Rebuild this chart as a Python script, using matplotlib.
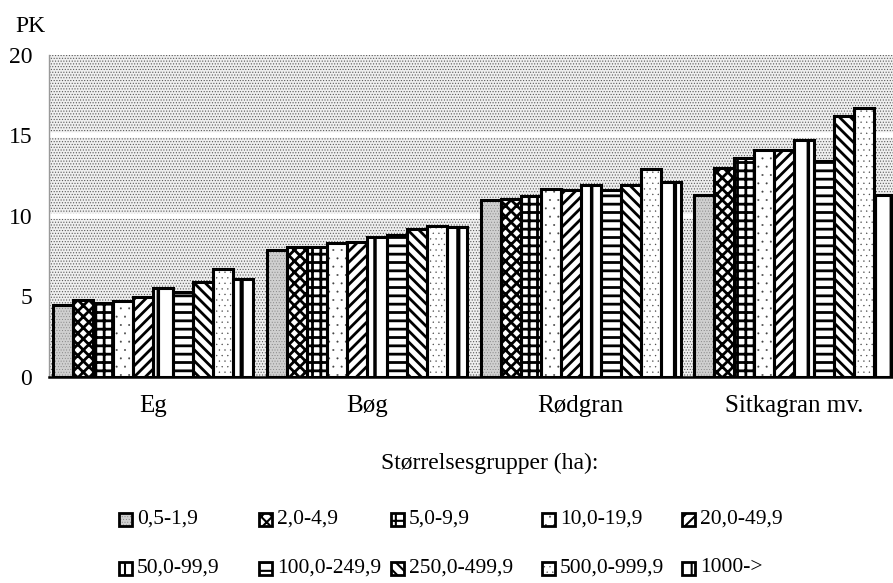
import matplotlib
matplotlib.use('Agg')
import matplotlib.pyplot as plt
from matplotlib.patches import Rectangle
import numpy as np

plt.rcParams['font.family'] = ['Liberation Serif', 'DejaVu Serif']

# data (PK)
arter = ['Eg', 'Bøg', 'Rødgran', 'Sitkagran mv.']
grupper = ['0,5-1,9', '2,0-4,9', '5,0-9,9', '10,0-19,9', '20,0-49,9',
           '50,0-99,9', '100,0-249,9', '250,0-499,9', '500,0-999,9', '1000->']
eg = [4.5, 4.8, 4.6, 4.7, 5.0, 5.5, 5.3, 5.9, 6.7, 6.1]
boeg = [7.9, 8.1, 8.1, 8.3, 8.4, 8.7, 8.8, 9.2, 9.4, 9.3]
roedgran = [11.0, 11.05, 11.25, 11.7, 11.6, 11.9, 11.6, 11.9, 12.9, 12.1]
sitkagran = [11.3, 13.0, 13.6, 14.1, 14.1, 14.7, 13.4, 16.2, 16.7, 11.3]
yticks = [0, 5, 10, 15, 20]

# (facecolor, hatch, hatch colour, hatch width) per size group
styles = [('#cfcfcf', '......', '#7a7a7a', 0.3),
          ('white', 'xxx', 'black', 2.0),
          ('white', '++', 'black', 2.0),
          ('white', '..', '#444444', 0.2),
          ('white', '///', 'black', 2.0),
          ('white', '|', 'black', 2.5),
          ('white', '--', 'black', 2.0),
          ('white', '\\\\\\', 'black', 2.0),
          ('white', '...', '#444444', 0.2),
          ('white', '|', 'black', 3.0)]

W, H = 893, 583
fig = plt.figure(figsize=(W / 100, H / 100), dpi=100)
ax = fig.add_axes([49 / W, 1 - 377 / H, (W - 49) / W, (377 - 55) / H])

# dotted background
with plt.rc_context({'hatch.linewidth': 0.5}):
    bg = Rectangle((0, 0), 1, 1, transform=ax.transAxes, facecolor='#efefef',
                   edgecolor='#5a5a5a', hatch='......', linewidth=0, zorder=0)
    ax.add_patch(bg)
for g in [10, 15]:
    ax.axhline(g, color='white', lw=4, zorder=1)

data = np.array([eg, boeg, roedgran, sitkagran])
x = np.arange(len(arter))
bw = 0.0936
for i in range(len(grupper)):
    fc, hatch, hc, hw = styles[i]
    pos = x - 5 * bw + (i + 0.5) * bw
    with plt.rc_context({'hatch.linewidth': hw}):
        ax.bar(pos, data[:, i], width=bw, color=fc, hatch=hatch, edgecolor=hc,
               linewidth=0, zorder=2)
    ax.bar(pos, data[:, i], width=bw, fill=False, edgecolor='black',
           linewidth=2.2, zorder=3)

ax.set_xlim(-0.487, 3.462)
ax.set_ylim(0, 20)
ax.set_yticks(yticks)
ax.set_yticklabels([str(t) for t in yticks], fontsize=17)
ax.set_xticks(x)
ax.set_xticklabels(arter, fontsize=18)
ax.tick_params(axis='y', length=0, pad=12)
ax.tick_params(axis='x', length=0, pad=13)
for s in ['top', 'right']:
    ax.spines[s].set_visible(False)
ax.spines['left'].set_color('#999999')
ax.spines['left'].set_linewidth(1.0)
ax.spines['bottom'].set_linewidth(1.8)
ax.spines['bottom'].set_zorder(4)

fig.text(15 / W, 1 - 26 / H, 'PK', fontsize=17, va='center', ha='left')
fig.text(490 / W, 1 - 463 / H, 'Størrelsesgrupper (ha):', fontsize=17,
         ha='center', va='center')

# legend, two rows of five
col_x = [119, 259, 391, 542, 682]
row_y = [519, 568]
ps = 13
for i, lab in enumerate(grupper):
    r, c = divmod(i, 5)
    fc, hatch, hc, hw = styles[i]
    px, py = col_x[c], row_y[r]
    with plt.rc_context({'hatch.linewidth': min(hw, 1.5)}):
        fig.add_artist(Rectangle((px / W, 1 - (py + ps / 2) / H), ps / W, ps / H,
                                 transform=fig.transFigure, facecolor=fc,
                                 hatch=hatch, edgecolor=hc, linewidth=0))
    fig.add_artist(Rectangle((px / W, 1 - (py + ps / 2) / H), ps / W, ps / H,
                             transform=fig.transFigure, fill=False,
                             edgecolor='black', linewidth=2.0))
    fig.text((px + 18) / W, 1 - py / H, lab, fontsize=15.5, va='center',
             ha='left')

fig.savefig('out.png', dpi=100)
